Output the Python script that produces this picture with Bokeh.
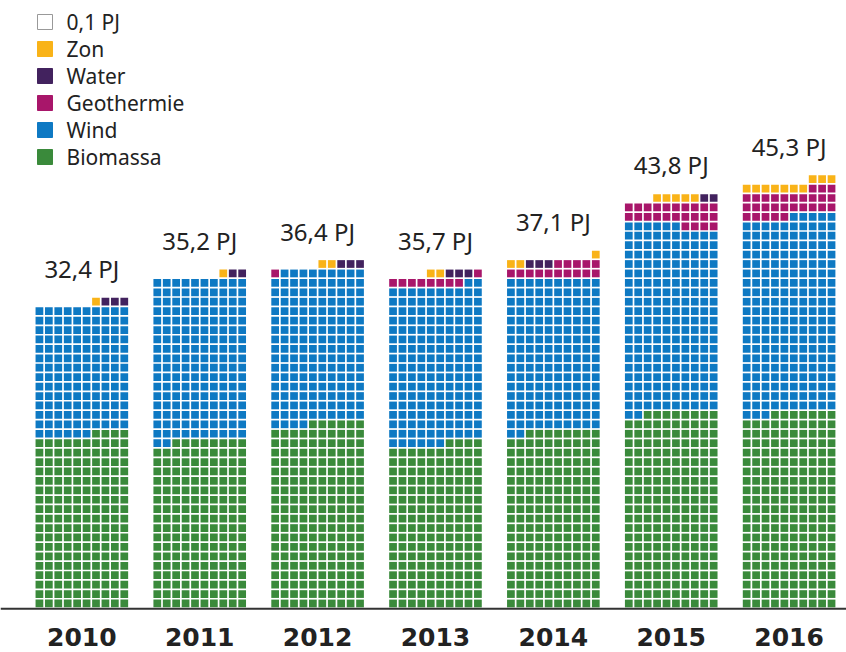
import math
from bokeh.plotting import figure
from bokeh.models import ColumnDataSource, Range1d, Span
from bokeh.embed import file_html
from bokeh.resources import INLINE
from bokeh.core.properties import value

# ---------------- data (PJ) ----------------
years = ["2010", "2011", "2012", "2013", "2014", "2015", "2016"]
total_labels = ["32,4 PJ", "35,2 PJ", "36,4 PJ", "35,7 PJ", "37,1 PJ", "43,8 PJ", "45,3 PJ"]
biomassa = [18.4, 17.8, 19.6, 17.4, 18.8, 20.8, 20.7]
wind = [13.6, 17.2, 16.3, 16.8, 16.2, 19.8, 20.8]
geothermie = [0.0, 0.0, 0.1, 0.9, 1.5, 2.4, 2.8]
water = [0.3, 0.2, 0.3, 0.3, 0.3, 0.2, 0.0]
zon = [0.1, 0.1, 0.2, 0.2, 0.3, 0.5, 1.0]
unit_pj = 0.1          # one square = 0,1 PJ
unit_label = "0,1 PJ"

stack_order = ["Biomassa", "Wind", "Geothermie", "Water", "Zon"]
series = {"Biomassa": biomassa, "Wind": wind, "Geothermie": geothermie,
          "Water": water, "Zon": zon}
legend_order = ["Zon", "Water", "Geothermie", "Wind", "Biomassa"]

# ---------------- style / layout ----------------
colors = {"Biomassa": "#3A8A3B", "Wind": "#0E79C3", "Geothermie": "#A8166A",
          "Water": "#42225E", "Zon": "#F9B318"}
COLS = 10
BAR_STEP = 12.5            # columns between bar starts
PX = 9.43                  # pixels per square pitch
W, H = 846, 652
ORIGIN_X = 34.2            # px of data x = 0
ORIGIN_Y = 607.7           # px (from top) of data y = 0
# rows that are filled left-to-right instead of right-to-left (as drawn)
ltr_rows = {"2015": [40]}

def fx(px):
    return (px - ORIGIN_X) / PX

def fy(py):
    return (ORIGIN_Y - py) / PX

x_range = Range1d(fx(0), fx(W))
y_range = Range1d(fy(H), fy(0))

p = figure(width=W, height=H, x_range=x_range, y_range=y_range,
           output_backend="svg", toolbar_location=None, min_border=0,
           x_axis_location=None, y_axis_location=None)
p.grid.visible = False
p.outline_line_color = None
p.background_fill_color = "white"
p.border_fill_color = "white"

xs, ys, cs = [], [], []
lab_x, lab_y = [], []
for i, yr in enumerate(years):
    seq = []
    for cat in stack_order:
        n = int(round(series[cat][i] / unit_pj))
        seq += [cat] * n
    for k, cat in enumerate(seq):
        r = k // COLS
        pos = k % COLS
        if r in ltr_rows.get(yr, []):
            col = pos
        else:
            col = COLS - 1 - pos
        xs.append(i * BAR_STEP + col + 0.5)
        ys.append(r + 0.5)
        cs.append(colors[cat])
    top = math.ceil(len(seq) / COLS)
    lab_x.append(i * BAR_STEP + COLS / 2)
    lab_y.append(top + 3.0)

src = ColumnDataSource(dict(x=xs, y=ys, c=cs))
p.rect(x="x", y="y", width=0.82, height=0.82, fill_color="c", line_color=None, source=src)

# baseline
p.add_layout(Span(location=-0.07, dimension="width", line_color="#333333", line_width=2))

# totals
p.text(x=lab_x, y=lab_y, text=total_labels, text_align="center", text_baseline="middle",
       text_font=value("Noto Sans"), text_font_size="24px", text_color="#222222")

# year labels
yx = [i * BAR_STEP + COLS / 2 for i in range(len(years))]
p.text(x=yx, y=[fy(636)] * len(years), text=years, text_align="center",
       text_baseline="middle", text_font=value("DejaVu Sans"), text_font_style="bold",
       text_font_size="25px", text_color="#222222")

# legend (custom)
leg_names = [unit_label] + legend_order
leg_fill = ["white"] + [colors[c] for c in legend_order]
leg_line = ["#999999"] + [colors[c] for c in legend_order]
leg_y = [fy(21.5 + 27 * k) for k in range(len(leg_names))]
p.scatter(x=[fx(44.5)] * len(leg_names), y=leg_y, marker="square", size=15,
          fill_color=leg_fill, line_color=leg_line, line_width=1)
p.text(x=[fx(66)] * len(leg_names), y=leg_y, text=leg_names, text_align="left",
       text_baseline="middle", text_font=value("Noto Sans"), text_font_size="21px",
       text_color="#222222")

open("out.html", "w").write(file_html(p, INLINE))
